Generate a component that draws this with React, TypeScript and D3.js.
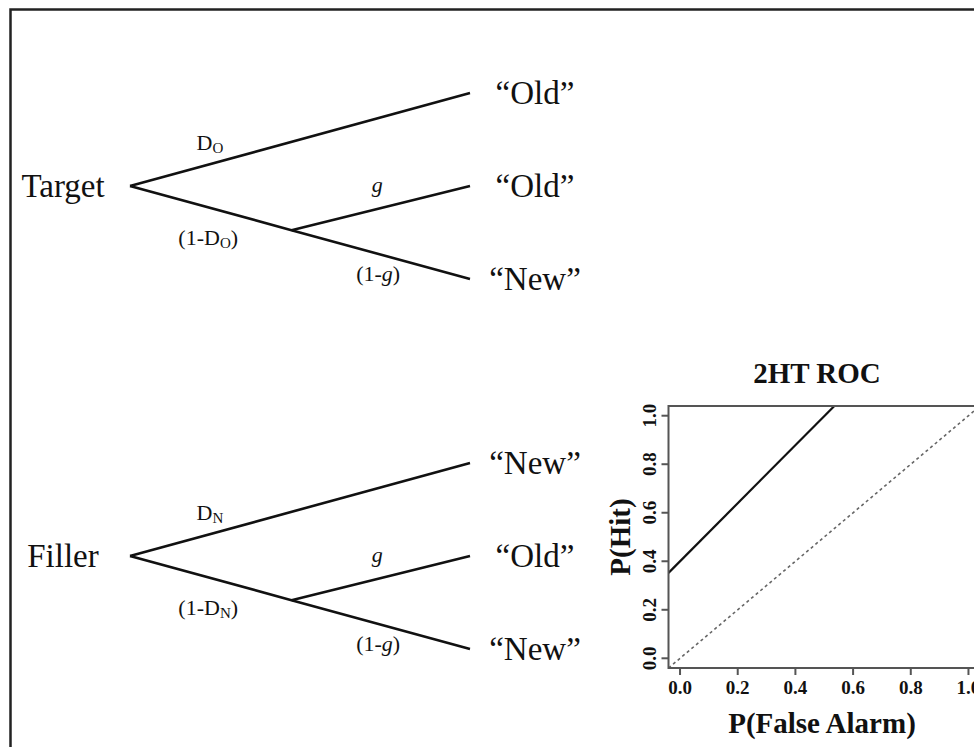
import React from "react";
import * as d3 from "d3";

// tree diagram content
const stimuli = ["Target", "Filler"];
const detectSub = ["O", "N"];
const responses = [
  ["“Old”", "“Old”", "“New”"],
  ["“New”", "“Old”", "“New”"],
];
const guessLabel = "g";

// ROC panel values
const rocFalseAlarm = [-0.04, 0.535];
const rocHit = [0.352, 1.04];
const chanceFalseAlarm = [-0.04, 1.04];
const chanceHit = [-0.04, 1.04];
const ticks = [0, 0.2, 0.4, 0.6, 0.8, 1.0];

const W = 974;
const H = 747;
const serif = "'Liberation Serif', 'Times New Roman', serif";

const treeX = d3.scaleLinear().domain([0, 1]).range([130, 470]);
const treeY = d3.scaleLinear().domain([-1, 1]).range([-93, 93]);
const rootY = [186, 556];
const splitT = 0.475;

const x = d3.scaleLinear().domain([-0.04, 1.04]).range([668.5, 980]);
const y = d3.scaleLinear().domain([-0.04, 1.04]).range([668, 406]);

const Tree = ({ idx }: { idx: number }) => {
  const cy = rootY[idx];
  const root: [number, number] = [treeX(0), cy];
  const split: [number, number] = [treeX(splitT), cy + treeY(splitT)];
  const ends = [-1, 0, 1].map((v) => [treeX(1), cy + treeY(v)] as [number, number]);
  const line = d3.line();
  const sub = detectSub[idx];
  return (
    <g fontFamily={serif} fill="#111">
      <path d={line([root, ends[0]]) || ""} stroke="#111" strokeWidth={2.6} fill="none" />
      <path d={line([root, split, ends[2]]) || ""} stroke="#111" strokeWidth={2.6} fill="none" />
      <path d={line([split, ends[1]]) || ""} stroke="#111" strokeWidth={2.6} fill="none" />
      <text x={63} y={cy + 11} fontSize={33} textAnchor="middle">
        {stimuli[idx]}
      </text>
      {responses[idx].map((r, i) => (
        <text key={i} x={535} y={ends[i][1] + 11} fontSize={33} textAnchor="middle">
          {r}
        </text>
      ))}
      <text x={treeX(0.235)} y={cy - 36} fontSize={22} textAnchor="middle">
        D<tspan fontSize={15} dy={3}>{sub}</tspan>
      </text>
      <text x={treeX(0.23)} y={cy + 59} fontSize={22} textAnchor="middle">
        (1-D<tspan fontSize={15} dy={3}>{sub}</tspan>
        <tspan dy={-3}>)</tspan>
      </text>
      <text x={treeX(0.727)} y={cy + 6} fontSize={22} textAnchor="middle" fontStyle="italic">
        {guessLabel}
      </text>
      <text x={treeX(0.73)} y={cy + 95} fontSize={22} textAnchor="middle">
        (1-<tspan fontStyle="italic">{guessLabel}</tspan>)
      </text>
    </g>
  );
};

const Roc = () => {
  const line = d3
    .line<[number, number]>()
    .x((d) => x(d[0]))
    .y((d) => y(d[1]));
  const rocPts = rocFalseAlarm.map((f, i) => [f, rocHit[i]] as [number, number]);
  const chancePts = chanceFalseAlarm.map((f, i) => [f, chanceHit[i]] as [number, number]);
  const [x0, x1] = x.range();
  const [y0, y1] = y.range();
  const axisColor = "#555";
  return (
    <g fontFamily={serif}>
      <defs>
        <clipPath id="roc-clip">
          <rect x={x0} y={y1} width={x1 - x0} height={y0 - y1} />
        </clipPath>
      </defs>
      <text x={817} y={383} fontSize={29} fontWeight="bold" textAnchor="middle" fill="#111">
        2HT ROC
      </text>
      <g clipPath="url(#roc-clip)">
        <path d={line(chancePts) || ""} stroke="#666" strokeWidth={1.6} strokeDasharray="3 3" fill="none" />
        <path d={line(rocPts) || ""} stroke="#111" strokeWidth={2.2} fill="none" />
      </g>
      <rect x={x0} y={y1} width={x1 - x0} height={y0 - y1} fill="none" stroke={axisColor} strokeWidth={2} />
      {ticks.map((t) => (
        <g key={"x" + t}>
          <line x1={x(t)} x2={x(t)} y1={y0} y2={y0 + 7} stroke={axisColor} strokeWidth={2} />
          <text x={x(t)} y={694} fontSize={19} fontWeight="bold" textAnchor="middle" fill="#111">
            {t.toFixed(1)}
          </text>
        </g>
      ))}
      {ticks.map((t) => (
        <g key={"y" + t}>
          <line x1={x0} x2={x0 - 7} y1={y(t)} y2={y(t)} stroke={axisColor} strokeWidth={2} />
          <text
            transform={`translate(656,${y(t)}) rotate(-90)`}
            fontSize={19}
            fontWeight="bold"
            textAnchor="middle"
            fill="#111"
          >
            {t.toFixed(1)}
          </text>
        </g>
      ))}
      <text x={822} y={733} fontSize={29} fontWeight="bold" textAnchor="middle" fill="#111">
        P(False Alarm)
      </text>
      <text
        transform={`translate(630,${(y0 + y1) / 2}) rotate(-90)`}
        fontSize={29}
        fontWeight="bold"
        textAnchor="middle"
        fill="#111"
      >
        P(Hit)
      </text>
    </g>
  );
};

export default function App() {
  return (
    <svg
      width={W}
      height={H}
      style={{ position: "absolute", left: 0, top: 0, background: "#fff" }}
    >
      <rect x={10.5} y={9.5} width={1000} height={800} fill="none" stroke="#222" strokeWidth={2.5} />
      <Tree idx={0} />
      <Tree idx={1} />
      <Roc />
    </svg>
  );
}
